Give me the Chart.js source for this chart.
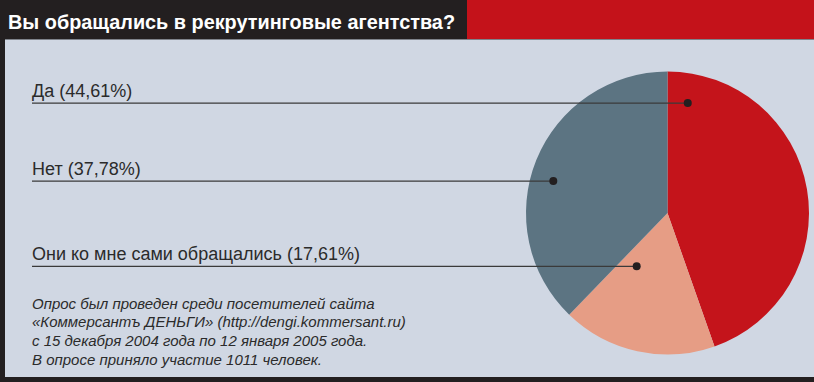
<!DOCTYPE html>
<html><head><meta charset="utf-8">
<script src="https://cdn.jsdelivr.net/npm/chart.js@4/dist/chart.umd.min.js"></script>
<style>
html,body{margin:0;padding:0;}
body{width:814px;height:382px;position:relative;background:#231f20;overflow:hidden;font-family:"Liberation Sans",Arial,sans-serif;}
#red{position:absolute;left:467px;top:0;width:347px;height:39px;background:#c4121a;}
#panel{position:absolute;left:5px;top:39px;width:809px;height:337px;background:#d0d7e3;border-top:1px solid #7f838b;}
#title{position:absolute;left:8px;top:10.5px;font-size:21px;line-height:21px;font-weight:bold;color:#fff;white-space:nowrap;transform-origin:0 0;}
.lbl{position:absolute;left:32px;font-size:18px;line-height:18px;color:#2b2b2b;white-space:nowrap;}
#note{position:absolute;left:32px;top:294.8px;font-size:15px;line-height:18.6px;font-style:italic;color:#2b2b2b;white-space:nowrap;}
#c{position:absolute;left:0;top:0;}
</style></head>
<body>
<div id="red"></div>
<div id="panel"></div>
<div id="title">Вы обращались в рекрутинговые агентства?</div>
<div class="lbl" id="l0" style="top:82.1px"></div>
<div class="lbl" id="l1" style="top:244.8px"></div>
<div class="lbl" id="l2" style="top:159.8px"></div>
<div id="note">Опрос был проведен среди посетителей сайта<br>«Коммерсантъ ДЕНЬГИ» (http://dengi.kommersant.ru)<br>с 15 декабря 2004 года по 12 января 2005 года.<br>В опросе приняло участие 1011 человек.</div>
<canvas id="c" width="814" height="382"></canvas>
<script>
const categories = ['Да', 'Они ко мне сами обращались', 'Нет'];
const shares = [44.61, 17.61, 37.78];
const shareLabels = ['44,61%', '17,61%', '37,78%'];
const sliceColors = ['#c4141b', '#e69d85', '#5c7482'];
// leader dot placement: fraction along slice angle, fraction of radius
const dotAngleFrac = [0.065, 0.78, 0.453];
const dotRadiusFrac = [0.79, 0.435, 0.838];

categories.forEach((c, i) => {
  document.getElementById('l' + i).textContent = c + ' (' + shareLabels[i] + ')';
});
const t = document.getElementById('title');
t.style.transform = 'scaleX(' + (447 / t.getBoundingClientRect().width) + ')';

const leaders = {
  id: 'leaders',
  afterDatasetsDraw(chart) {
    const ctx = chart.ctx;
    const meta = chart.getDatasetMeta(0);
    meta.data.forEach((arc, i) => {
      const p = arc.getProps(['x', 'y', 'startAngle', 'endAngle', 'outerRadius'], true);
      const a = p.startAngle + dotAngleFrac[i] * (p.endAngle - p.startAngle);
      const r = dotRadiusFrac[i] * p.outerRadius;
      const dx = p.x + Math.cos(a) * r;
      const dy = p.y + Math.sin(a) * r;
      ctx.save();
      ctx.strokeStyle = '#3a3a3a';
      ctx.lineWidth = 1.3;
      ctx.beginPath();
      ctx.moveTo(32, dy);
      ctx.lineTo(dx, dy);
      ctx.stroke();
      ctx.fillStyle = '#231f20';
      ctx.beginPath();
      ctx.arc(dx, dy, 4, 0, Math.PI * 2);
      ctx.fill();
      ctx.restore();
    });
  }
};

new Chart(document.getElementById('c'), {
  type: 'pie',
  data: {
    labels: categories,
    datasets: [{ data: shares, backgroundColor: sliceColors, borderWidth: 0 }]
  },
  options: {
    responsive: false,
    animation: false,
    layout: { padding: { left: 526, top: 71.5, right: 5, bottom: 27.5 } },
    plugins: { legend: { display: false }, tooltip: { enabled: false } }
  },
  plugins: [leaders]
});
</script>
</body></html>
